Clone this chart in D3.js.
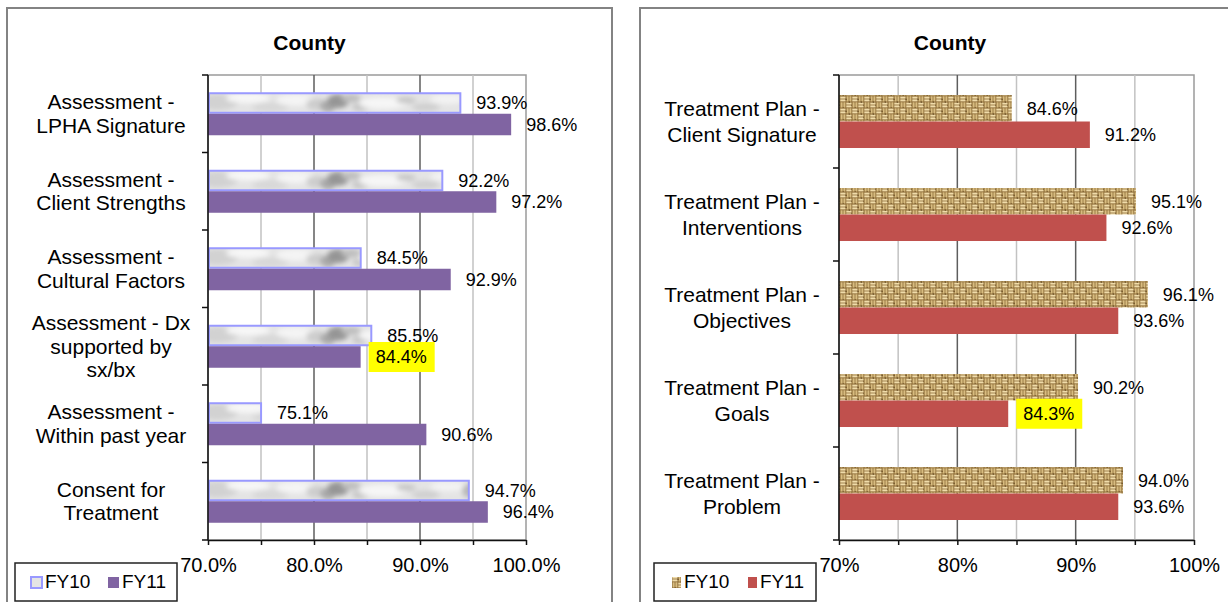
<!DOCTYPE html>
<html>
<head>
<meta charset="utf-8">
<script src="https://cdn.jsdelivr.net/npm/d3@7"></script>
<style>
  html, body { margin: 0; padding: 0; background: #fff; }
  svg { display: block; font-family: "Liberation Sans", Arial, sans-serif; }
</style>
</head>
<body>
<svg id="chart" width="1228" height="602"></svg>
<script>
// ---- data ----
const seriesNames = ["FY10", "FY11"];

const assessCategories = [
  "Assessment - LPHA Signature",
  "Assessment - Client Strengths",
  "Assessment - Cultural Factors",
  "Assessment - Dx supported by sx/bx",
  "Assessment - Within past year",
  "Consent for Treatment"
];
const assessFY10 = [0.939, 0.922, 0.845, 0.855, 0.751, 0.947];
const assessFY11 = [0.986, 0.972, 0.929, 0.844, 0.906, 0.964];
const assessTicks = [0.70, 0.75, 0.80, 0.85, 0.90, 0.95, 1.00];
const assessTickLabels = ["70.0%", "", "80.0%", "", "90.0%", "", "100.0%"];

const planCategories = [
  "Treatment Plan - Client Signature",
  "Treatment Plan - Interventions",
  "Treatment Plan - Objectives",
  "Treatment Plan - Goals",
  "Treatment Plan - Problem"
];
const planFY10 = [0.846, 0.951, 0.961, 0.902, 0.940];
const planFY11 = [0.912, 0.926, 0.936, 0.843, 0.936];
const planTicks = [0.70, 0.75, 0.80, 0.85, 0.90, 0.95, 1.00];
const planTickLabels = ["70%", "", "80%", "", "90%", "", "100%"];

const chartTitle = "County";
const flagBelow = 0.85;   // FY11 results under this get a yellow callout
const pct = d3.format(".1%");

// ---- setup ----
const svg = d3.select("#chart");
const defs = svg.append("defs");

defs.append("filter").attr("id", "soft")
  .attr("x", "-10%").attr("y", "-50%").attr("width", "120%").attr("height", "200%")
  .append("feGaussianBlur").attr("stdDeviation", 2.4);

// grey marble fill for the FY10 assessment bars
function marblePattern(id, x0, y0, h) {
  const p = defs.append("pattern").attr("id", id)
    .attr("patternUnits", "userSpaceOnUse")
    .attr("x", x0).attr("y", y0).attr("width", 340).attr("height", h);
  p.append("rect").attr("width", 340).attr("height", h).attr("fill", "#e4e4e4");
  const g = p.append("g").attr("filter", "url(#soft)");
  const blobs = [
    [10, 10, 20, 8, "#d2d2d2"], [40, 6, 22, 5, "#f7f7f7"], [62, 15, 18, 5, "#d8d8d8"],
    [88, 8, 20, 6, "#f4f4f4"], [108, 12, 10, 6, "#cdcdcd"],
    [120, 14, 8, 6, "#a9a9a9"], [130, 9, 11, 7, "#959595"],
    [143, 6, 10, 4, "#bdbdbd"], [152, 15, 8, 4, "#c6c6c6"], [175, 11, 24, 6, "#f6f6f6"],
    [198, 8, 10, 3, "#c4c4c4"], [218, 15, 14, 4, "#cfcfcf"], [240, 7, 18, 5, "#f3f3f3"],
    [262, 11, 8, 7, "#b7b7b7"], [290, 10, 20, 6, "#e0e0e0"], [320, 12, 18, 6, "#f4f4f4"]
  ];
  blobs.forEach(([cx, cy, rx, ry, c]) =>
    g.append("ellipse").attr("cx", cx).attr("cy", cy).attr("rx", rx).attr("ry", ry).attr("fill", c));
}

// woven burlap fill for the FY10 treatment-plan bars
function burlapPattern(id) {
  const n = 12, h = n / 2;
  const p = defs.append("pattern").attr("id", id)
    .attr("patternUnits", "userSpaceOnUse").attr("width", n).attr("height", n);
  p.append("rect").attr("width", n).attr("height", n).attr("fill", "#8e6d38");
  const light = "#f0dcaa", mid = "#d8bc80", dark = "#5e421b";
  // horizontal strands (top-left, bottom-right)
  [[0, 0.6], [0, 3.4], [h, h + 0.6], [h, h + 3.4]].forEach(([x0, y0]) =>
    p.append("rect").attr("x", x0 + 0.3).attr("y", y0).attr("width", h - 0.8).attr("height", 2)
      .attr("fill", light));
  // vertical strands (top-right, bottom-left)
  [[h + 0.6, 0], [h + 3.4, 0], [0.6, h], [3.4, h]].forEach(([x0, y0]) =>
    p.append("rect").attr("x", x0).attr("y", y0 + 0.3).attr("width", 2).attr("height", h - 0.8)
      .attr("fill", mid));
  [[5.5, 2.7], [11.5, 8.7], [2.7, 11.5], [8.7, 5.5]].forEach(d =>
    p.append("rect").attr("x", d[0]).attr("y", d[1]).attr("width", 1.2).attr("height", 1.2).attr("fill", dark));
}

function wrapLines(text, maxWidth, fontSize) {
  const probe = svg.append("text").attr("font-size", fontSize).attr("visibility", "hidden");
  const words = text.split(" ");
  const lines = [];
  let line = [];
  words.forEach(w => {
    const attempt = line.concat([w]).join(" ");
    probe.text(attempt);
    if (line.length && probe.node().getComputedTextLength() > maxWidth) {
      lines.push(line.join(" "));
      line = [w];
    } else {
      line.push(w);
    }
  });
  if (line.length) lines.push(line.join(" "));
  probe.remove();
  return lines;
}

function drawPanel(o) {
  const g = svg.append("g");

  // outer chart frame
  g.append("rect").attr("x", o.frame[0]).attr("y", o.frame[1])
    .attr("width", o.frame[2]).attr("height", o.frame[3])
    .attr("fill", "#fff").attr("stroke", "#838383").attr("stroke-width", 2);

  g.append("text").attr("x", o.frame[0] + o.frame[2] / 2).attr("y", 50)
    .attr("text-anchor", "middle").attr("font-size", 21).attr("font-weight", "bold")
    .text(chartTitle);

  const x = d3.scaleLinear().domain([o.ticks[0], o.ticks[o.ticks.length - 1]])
    .range([o.plot.left, o.plot.right]);
  const y = d3.scaleBand().domain(o.categories)
    .range([o.plot.top, o.plot.bottom])
    .paddingInner(o.pad).paddingOuter(o.pad / 2);
  const ys = d3.scaleBand().domain(seriesNames).range([0, y.bandwidth()]);

  // plot border
  g.append("rect").attr("x", o.plot.left).attr("y", o.plot.top)
    .attr("width", o.plot.right - o.plot.left).attr("height", o.plot.bottom - o.plot.top)
    .attr("fill", "none").attr("stroke", "#9a9a9a").attr("stroke-width", 1.5);

  // gridlines: every 10% darker, in-between 5% steps lighter
  const inner = o.ticks.slice(1, -1);
  g.append("g").selectAll("line").data(inner).join("line")
    .attr("x1", d => x(d)).attr("x2", d => x(d))
    .attr("y1", o.plot.top).attr("y2", o.plot.bottom)
    .attr("stroke", (d, i) => o.tickLabels[i + 1] ? "#5e5e5e" : "#c2c2c2")
    .attr("stroke-width", 1.5);

  // bars
  const rows = o.categories.map((c, i) => ({ c, v: [o.fy10[i], o.fy11[i]] }));
  const barG = g.append("g");
  rows.forEach(r => {
    seriesNames.forEach((s, k) => {
      const top = y(r.c) + ys(s);
      const inset = (k === 0 && o.fy10Stroke) ? 1 : 0;
      barG.append("rect")
        .attr("x", x(o.ticks[0]) + inset)
        .attr("y", top + inset)
        .attr("width", x(r.v[k]) - x(o.ticks[0]) - 2 * inset)
        .attr("height", ys.bandwidth() - 2 * inset)
        .attr("fill", o.fills[k])
        .attr("stroke", (k === 0 && o.fy10Stroke) ? o.fy10Stroke : "none")
        .attr("stroke-width", 2);
    });
  });

  // axes
  const xAxis = d3.axisBottom(x).tickValues(o.ticks)
    .tickFormat((d, i) => o.tickLabels[i]).tickSize(5).tickSizeOuter(0).tickPadding(13);
  const ax = g.append("g").attr("transform", `translate(0,${o.plot.bottom})`).call(xAxis);
  ax.select(".domain").attr("stroke", "#111").attr("stroke-width", 1.5);
  ax.selectAll(".tick line").attr("stroke", "#111").attr("stroke-width", 1.5);
  ax.selectAll(".tick text").attr("font-size", 20).attr("fill", "#000")
    .attr("font-family", "Liberation Sans, Arial, sans-serif");

  g.append("line").attr("x1", o.plot.left).attr("x2", o.plot.left)
    .attr("y1", o.plot.top).attr("y2", o.plot.bottom)
    .attr("stroke", "#111").attr("stroke-width", 1.5);
  const bounds = o.categories.map(c => y(c) - y.step() * y.paddingInner() / 2)
    .concat([y.range()[1]]);
  g.append("g").selectAll("line").data(bounds).join("line")
    .attr("x1", o.plot.left - 6).attr("x2", o.plot.left)
    .attr("y1", d => d).attr("y2", d => d)
    .attr("stroke", "#111").attr("stroke-width", 1.5);

  // category labels
  o.categories.forEach(c => {
    const lines = wrapLines(c, 166, 21);
    const cy = y(c) + y.bandwidth() / 2;
    const t = g.append("text").attr("text-anchor", "middle").attr("font-size", 21);
    lines.forEach((ln, i) => {
      t.append("tspan").attr("x", o.labelX)
        .attr("y", cy + (i - (lines.length - 1) / 2) * o.lineH)
        .attr("dy", "0.35em").text(ln);
    });
  });

  // value labels
  const lblG = g.append("g");
  rows.forEach(r => {
    seriesNames.forEach((s, k) => {
      const v = r.v[k];
      const cy = y(r.c) + ys(s) + ys.bandwidth() / 2;
      const tx = x(v) + 15;
      const t = lblG.append("text").attr("x", tx).attr("y", cy).attr("dy", "0.35em")
        .attr("font-size", 18).text(pct(v));
      if (k === 1 && v < flagBelow) {
        const w = t.node().getComputedTextLength();
        lblG.insert("rect", () => t.node())
          .attr("x", x(v) + 8).attr("y", cy - 15)
          .attr("width", w + 15).attr("height", 30).attr("fill", "#ffff00");
      }
    });
  });

  // legend
  const L = o.legend;
  g.append("rect").attr("x", L.x).attr("y", L.y).attr("width", L.w).attr("height", L.h)
    .attr("fill", "#fff").attr("stroke", "#222").attr("stroke-width", 1.5);
  seriesNames.forEach((s, k) => {
    const sx = L.items[k];
    g.append("rect").attr("x", sx).attr("y", L.y + 14)
      .attr("width", L.sw).attr("height", L.sh)
      .attr("fill", o.fills[k])
      .attr("stroke", (k === 0 && o.fy10Stroke) ? o.fy10Stroke : "none")
      .attr("stroke-width", 2);
    g.append("text").attr("x", sx + L.sw + 3).attr("y", L.y + 25)
      .attr("font-size", 19).text(s);
  });
}

// ---- left panel: assessment items ----
const aPlot = { left: 208, right: 526, top: 75, bottom: 540 };
const aStep = (aPlot.bottom - aPlot.top) / assessCategories.length;
const aPad = 0.445;
marblePattern("marble", aPlot.left, aPlot.top + aStep * aPad / 2, aStep);
drawPanel({
  frame: [7, 8, 605, 620],
  plot: aPlot,
  pad: aPad,
  categories: assessCategories,
  fy10: assessFY10,
  fy11: assessFY11,
  ticks: assessTicks,
  tickLabels: assessTickLabels,
  fills: ["url(#marble)", "#8064a2"],
  fy10Stroke: "#9999ff",
  labelX: 111,
  lineH: 23.5,
  legend: { x: 15, y: 563, w: 162, h: 38, items: [31, 108], sw: 11, sh: 11 }
});

// ---- right panel: treatment-plan items ----
burlapPattern("burlap");
drawPanel({
  frame: [640, 8, 620, 620],
  plot: { left: 839, right: 1194, top: 75, bottom: 540 },
  pad: 0.43,
  categories: planCategories,
  fy10: planFY10,
  fy11: planFY11,
  ticks: planTicks,
  tickLabels: planTickLabels,
  fills: ["url(#burlap)", "#c0504d"],
  fy10Stroke: null,
  labelX: 742,
  lineH: 25.5,
  legend: { x: 654, y: 563, w: 162, h: 38, items: [672, 748], sw: 9, sh: 11 }
});
</script>
</body>
</html>
